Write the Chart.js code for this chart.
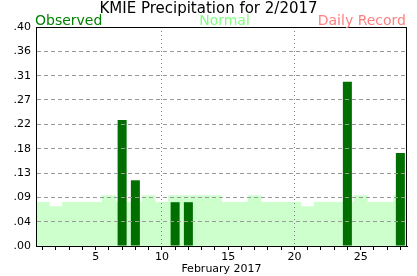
<!DOCTYPE html>
<html>
<head>
<meta charset="utf-8">
<script src="https://cdn.jsdelivr.net/npm/chart.js@4.4.0/dist/chart.umd.min.js"></script>
<style>
  html, body { margin: 0; padding: 0; background: #fff; }
</style>
</head>
<body>
<canvas id="precip" width="417" height="276"></canvas>
<script>
// days of February 2017
const days = [1, 2, 3, 4, 5, 6, 7, 8, 9, 10, 11, 12, 13, 14,
              15, 16, 17, 18, 19, 20, 21, 22, 23, 24, 25, 26, 27, 28];
// observed daily precipitation (inches)
const observed = [0, 0, 0, 0, 0, 0, 0.23, 0.12, 0, 0, 0.08, 0.08, 0, 0,
                  0, 0, 0, 0, 0, 0, 0, 0, 0, 0.30, 0, 0, 0, 0.17];
// normal daily precipitation (inches)
const normal = [0.080, 0.072, 0.080, 0.080, 0.080, 0.092, 0.080, 0.080, 0.092, 0.080,
                0.092, 0.092, 0.092, 0.092, 0.080, 0.080, 0.092, 0.080, 0.080, 0.080,
                0.072, 0.080, 0.080, 0.080, 0.092, 0.080, 0.080, 0.092];
// y axis ticks
const yTicks = [0, 0.0444, 0.0889, 0.1333, 0.1778, 0.2222, 0.2667, 0.3111, 0.3556, 0.4];
const yTickLabels = ['.00', '.04', '.09', '.13', '.18', '.22', '.27', '.31', '.36', '.40'];
// x axis labelled days, and days with a dotted grid line
const xTickLabels = [5, 10, 15, 20, 25];
const dottedDays = [10, 20];

const FONT = 'DejaVu Sans';

// header texts, grid on top of the bars, and the box round the plot
const framePlugin = {
  id: 'frame',
  afterDatasetsDraw(chart) {
    chart.scales.x.drawGrid(chart.chartArea);
    chart.scales.y.drawGrid(chart.chartArea);
    const ctx = chart.ctx;
    const a = chart.chartArea;
    const l = Math.round(a.left), t = Math.round(a.top);
    const r = Math.round(a.right), b = Math.round(a.bottom);
    ctx.save();
    ctx.strokeStyle = '#000';
    ctx.lineWidth = 1;
    ctx.strokeRect(l + 0.5, t + 0.5, r - l - 1, b - t);
    ctx.restore();
  },
  afterDraw(chart) {
    const ctx = chart.ctx;
    const a = chart.chartArea;
    ctx.save();
    ctx.textBaseline = 'alphabetic';
    ctx.font = '15px "' + FONT + '"';
    ctx.fillStyle = '#000';
    ctx.textAlign = 'center';
    ctx.fillText('KMIE Precipitation for 2/2017', chart.width / 2, 13);

    ctx.font = '14px "' + FONT + '"';
    ctx.textAlign = 'left';
    ctx.fillStyle = '#008000';
    ctx.fillText('Observed', a.left - 1, 25);
    ctx.textAlign = 'center';
    ctx.fillStyle = '#80ff80';
    ctx.fillText('Normal', (a.left + a.right) / 2 + 3, 25);
    ctx.textAlign = 'right';
    ctx.fillStyle = '#ff8080';
    ctx.fillText('Daily Record', a.right - 1, 25);
    ctx.restore();
  }
};

let context = document.querySelector('#precip').getContext('2d');
new Chart(context, {
  type: 'bar',
  data: {
    labels: days,
    datasets: [{
      label: 'Observed',
      data: observed,
      backgroundColor: '#006f00',
      barPercentage: 0.68,
      categoryPercentage: 1,
      grouped: false,
      order: 1
    }, {
      label: 'Normal',
      data: normal,
      backgroundColor: '#ccffcc',
      barPercentage: 1,
      categoryPercentage: 1,
      grouped: false,
      order: 2
    }]
  },
  options: {
    responsive: false,
    animation: false,
    layout: { padding: { top: 27, right: 10, left: 0, bottom: 0 } },
    plugins: {
      legend: { display: false },
      tooltip: { enabled: false }
    },
    scales: {
      x: {
        offset: true,
        grid: {
          offset: false,
          color: (c) => dottedDays.includes(days[c.index]) ? '#808080' : 'rgba(0,0,0,0)',
          tickColor: '#000',
          tickLength: 4
        },
        border: { color: '#000', width: 1, dash: [1, 3] },
        ticks: {
          autoSkip: false,
          maxRotation: 0,
          padding: 1,
          color: '#000',
          font: { family: FONT, size: 11 },
          callback: (v, i) => xTickLabels.includes(days[i]) ? String(days[i]) : ''
        },
        title: {
          display: true,
          text: 'February 2017',
          color: '#000',
          font: { family: FONT, size: 11 },
          padding: 0
        },
        afterFit: (s) => { s.height = 30; }
      },
      y: {
        min: 0,
        max: 0.4,
        afterBuildTicks: (s) => { s.ticks = yTicks.map(v => ({ value: v })); },
        grid: { color: '#999', drawTicks: false },
        border: { color: '#000', width: 1, dash: [4, 3] },
        ticks: {
          padding: 5,
          color: '#000',
          font: { family: FONT, size: 11 },
          callback: (v, i) => yTickLabels[i]
        },
        afterFit: (s) => { s.width = 36; }
      }
    }
  },
  plugins: [framePlugin]
});
</script>
</body>
</html>
